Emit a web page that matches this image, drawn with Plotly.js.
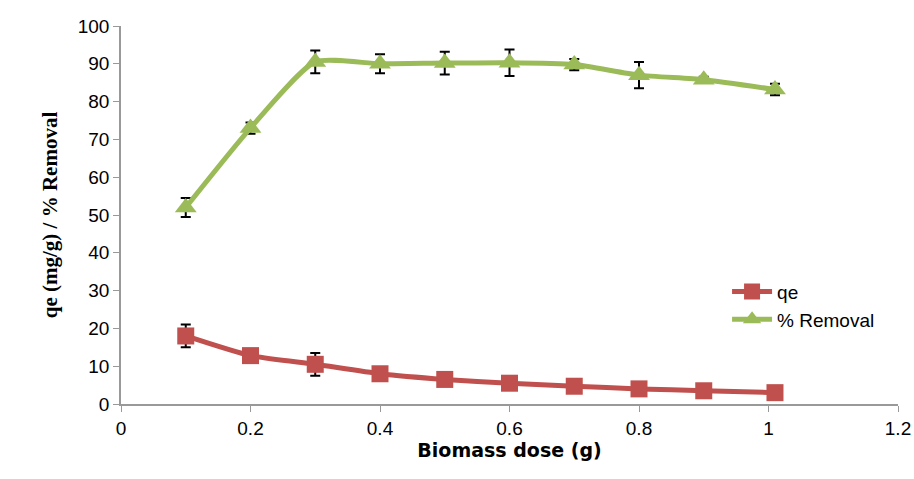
<!DOCTYPE html>
<html>
<head>
<meta charset="utf-8">
<script src="https://cdn.plot.ly/plotly-3.0.1.min.js"></script>
<style>body{margin:0;background:#fff}</style>
</head>
<body>
<div id="grapharea" style="width:914px;height:479px"></div>
<script>
var dose = [0.1, 0.2, 0.3, 0.4, 0.5, 0.6, 0.7, 0.8, 0.9, 1.01];
var qe = [18, 12.8, 10.5, 8, 6.5, 5.5, 4.7, 4, 3.5, 3];
var qeErr = [3, 0.5, 3, 0.5, 0.5, 0.5, 0.5, 0.5, 0.5, 0.5];
var removal = [52, 73, 90.5, 90, 90.2, 90.3, 89.8, 87, 85.8, 83.2];
var removalErr = [2.5, 1.5, 3, 2.5, 3, 3.5, 1.5, 3.5, 0.8, 1.5];

var qeTrace = {
  x: dose, y: qe, name: 'qe', type: 'scatter', mode: 'lines+markers',
  line: {color: '#c0504d', width: 5, shape: 'spline', smoothing: 0.6},
  marker: {symbol: 'square', size: 17, color: '#c0504d'},
  error_y: {type: 'data', array: qeErr, color: '#000', thickness: 2, width: 5}
};
var remTrace = {
  x: dose, y: removal, name: '% Removal', type: 'scatter', mode: 'lines+markers',
  line: {color: '#9bbb59', width: 5, shape: 'spline', smoothing: 0.6},
  marker: {symbol: 'triangle-up', size: 19, color: '#9bbb59'},
  error_y: {type: 'data', array: removalErr, color: '#000', thickness: 2, width: 5}
};

var layout = {
  width: 914, height: 479,
  margin: {l: 121, r: 16, t: 26, b: 75},
  paper_bgcolor: '#fff', plot_bgcolor: '#fff',
  font: {family: 'Liberation Sans, Arial', size: 19, color: '#000'},
  showlegend: true,
  legend: {x: 0.78, y: 0.26, xanchor: 'left', yanchor: 'middle', font: {size: 19},
           bgcolor: 'rgba(0,0,0,0)', itemwidth: 40},
  xaxis: {
    range: [0, 1.2], dtick: 0.2, tick0: 0, showgrid: false, zeroline: false,
    showline: true, linecolor: '#999', linewidth: 1.5, ticks: 'outside', ticklen: 6, tickcolor: '#999',
    title: {text: '<b>Biomass dose (g)</b>', font: {size: 19, family: 'DejaVu Sans'}, standoff: 6}
  },
  yaxis: {
    range: [0, 100], dtick: 10, showgrid: false, zeroline: false,
    showline: true, linecolor: '#999', linewidth: 1.5, ticks: 'outside', ticklen: 6, tickcolor: '#999',
    title: {text: '<b>qe (mg/g) / % Removal</b>', font: {size: 21, family: 'Liberation Serif, Times New Roman'}, standoff: 14}
  }
};

Plotly.newPlot('grapharea', [qeTrace, remTrace], layout, {displayModeBar: false});
</script>
</body>
</html>
